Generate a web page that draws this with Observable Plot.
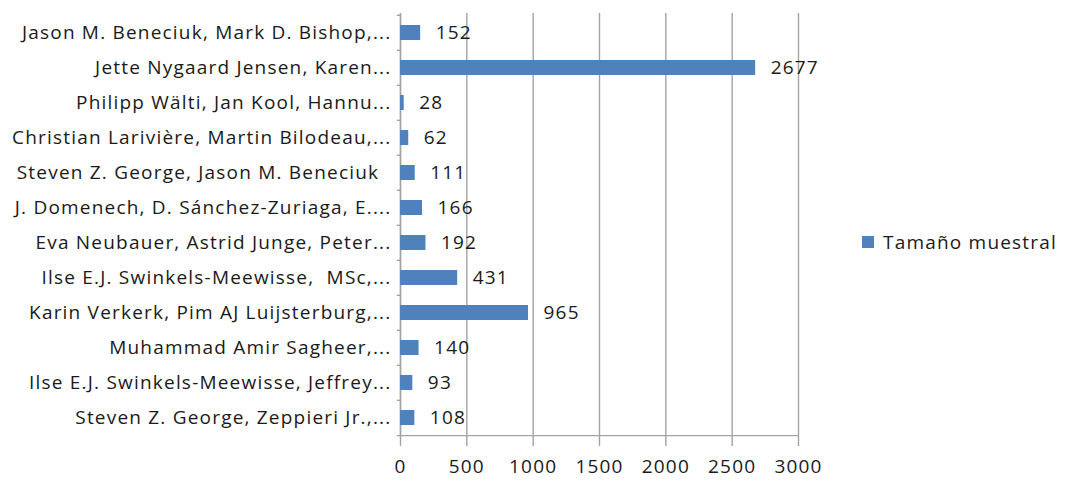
<!DOCTYPE html>
<html>
<head>
<meta charset="utf-8">
<script src="https://cdn.jsdelivr.net/npm/d3@7"></script>
<script src="https://cdn.jsdelivr.net/npm/@observablehq/plot@0.6"></script>
<style>
  body { margin: 0; background: #fff; }
  #wrap { position: relative; width: 1065px; height: 482px; font-family: "Open Sans", sans-serif; }
  #wrap svg text { white-space: pre; letter-spacing: 1.2px; }
  .legend { position: absolute; left: 862px; top: 229px; display: flex; align-items: center; font-size: 19px; letter-spacing: 1.2px; color: #1a1a1a; }
  .legend .sw { width: 12px; height: 12px; background: #4f81bd; margin-right: 9px; }
</style>
</head>
<body>
<div id="wrap"></div>
<script>
// Studies (authors), top to bottom
const studies = [
  "Jason M. Beneciuk, Mark D. Bishop,...",
  "Jette Nygaard Jensen, Karen...",
  "Philipp Wälti, Jan Kool, Hannu...",
  "Christian Larivière, Martin Bilodeau,...",
  "Steven Z. George, Jason M. Beneciuk  ",
  "J. Domenech, D. Sánchez-Zuriaga, E....",
  "Eva Neubauer, Astrid Junge, Peter...",
  "Ilse E.J. Swinkels-Meewisse,  MSc,...",
  "Karin Verkerk, Pim AJ Luijsterburg,...",
  "Muhammad Amir Sagheer,...",
  "Ilse E.J. Swinkels-Meewisse, Jeffrey...",
  "Steven Z. George, Zeppieri Jr.,..."
];
// Sample size of each study
const sampleSize = [152, 2677, 28, 62, 111, 166, 192, 431, 965, 140, 93, 108];
const xTicks = [0, 500, 1000, 1500, 2000, 2500, 3000];
const seriesName = "Tamaño muestral";

const data = studies.map((s, i) => ({study: s, n: sampleSize[i]}));
const barColor = "#4f81bd";
const gridColor = "#a3a3a3";
const ink = "#1a1a1a";
const fontSize = 19;

const frameTop = 13, frameBottom = 437;
const step = (frameBottom - frameTop) / studies.length;
const last = studies[studies.length - 1];

const chart = Plot.plot({
  width: 1065,
  height: 482,
  marginLeft: 400,
  marginRight: 267,
  marginTop: frameTop,
  marginBottom: 482 - frameBottom,
  style: {fontFamily: "'Open Sans', sans-serif", fontSize: `${fontSize}px`, color: ink, background: "#fff"},
  x: {domain: [0, 3000], ticks: xTicks, label: null},
  y: {domain: studies, padding: 0, label: null},
  marks: [
    Plot.gridX(xTicks, {stroke: gridColor, strokeOpacity: 1, strokeWidth: 1.4}),
    Plot.axisX(xTicks, {tickSize: 9, tickPadding: 13, stroke: gridColor, strokeWidth: 1.4, fill: ink, fontSize, tickFormat: d => String(d), label: null}),
    Plot.axisY({tickSize: 0, tickPadding: 9, fill: ink, fontSize, label: null}),
    // category boundary ticks on the value axis
    Plot.ruleY(studies, {y: d => d, x1: -24, x2: 0, dy: -step / 2, stroke: gridColor, strokeWidth: 1.4}),
    Plot.ruleY([last], {y: d => d, x1: -24, x2: 3000, dy: step / 2, stroke: gridColor, strokeWidth: 1.4}),
    Plot.ruleX([0], {stroke: gridColor, strokeWidth: 1.4}),
    Plot.barX(data, {y: "study", x: "n", fill: barColor, insetTop: 10, insetBottom: 10}),
    Plot.text(data, {y: "study", x: "n", text: d => String(d.n), dx: 15, textAnchor: "start", fill: ink, fontSize})
  ]
});

const wrap = document.getElementById("wrap");
wrap.appendChild(chart);
const legend = document.createElement("div");
legend.className = "legend";
legend.innerHTML = `<span class="sw"></span><span>${seriesName}</span>`;
wrap.appendChild(legend);
</script>
</body>
</html>
